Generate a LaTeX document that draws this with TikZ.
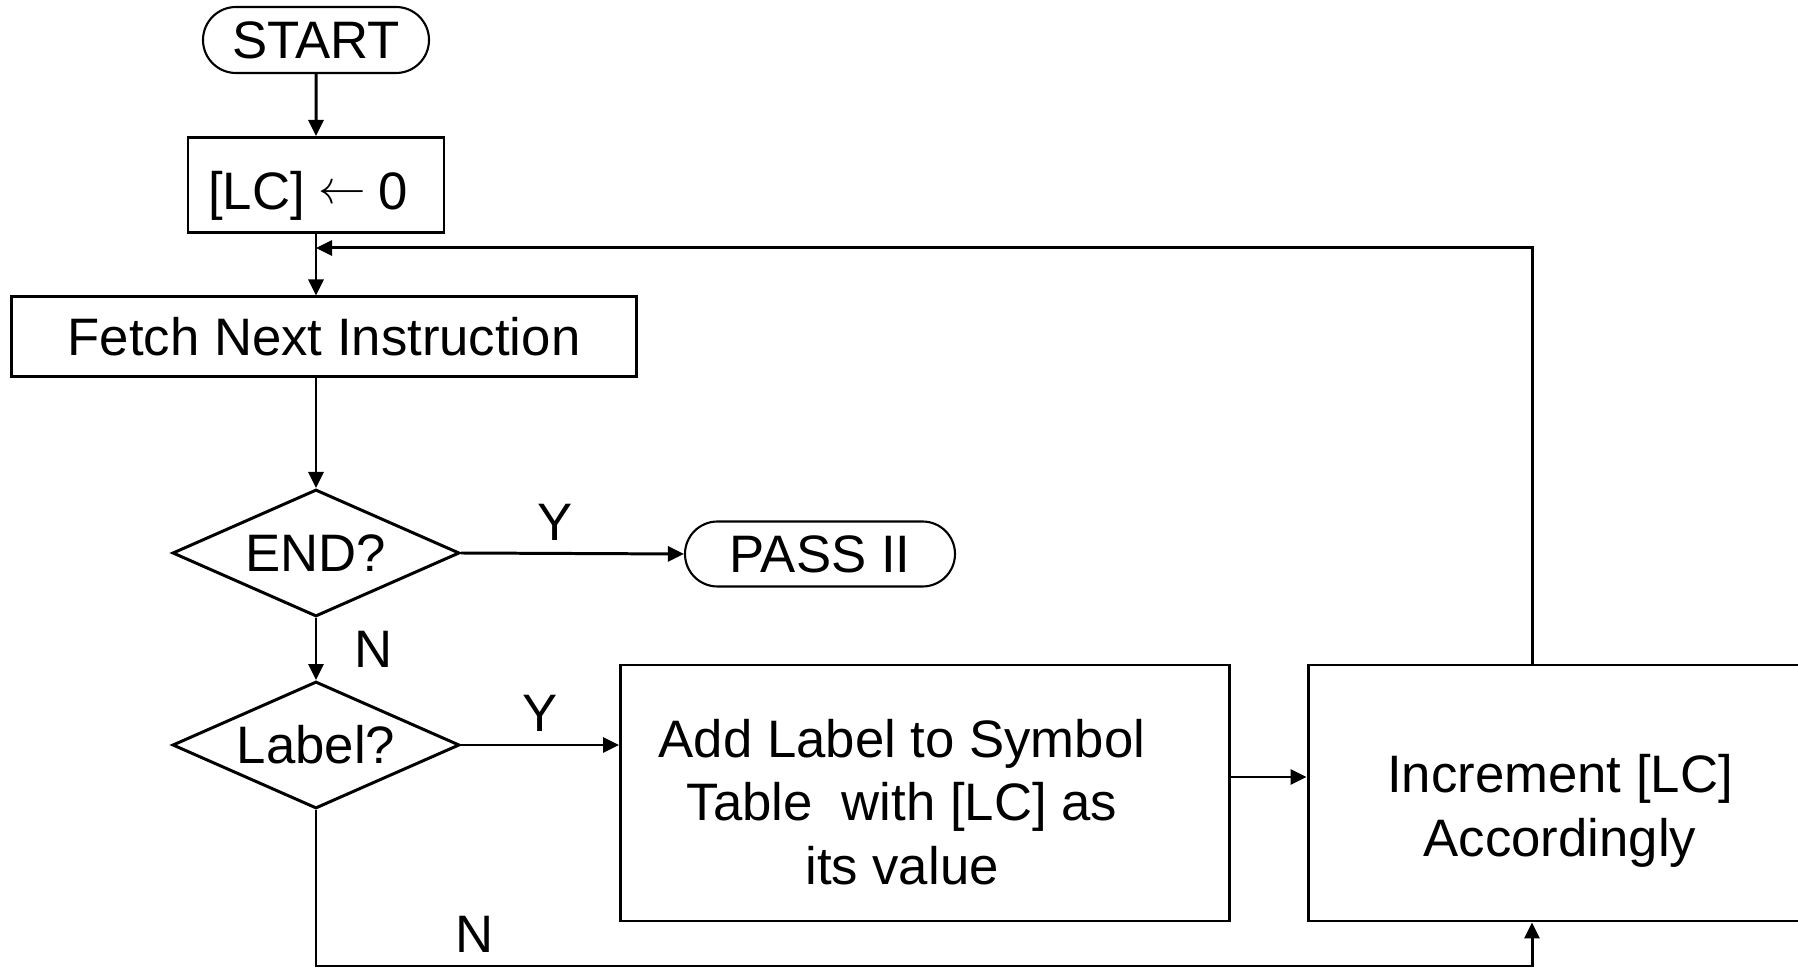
\documentclass[tikz,border=0pt]{standalone}
\usepackage{fontspec}
\setmainfont{Liberation Sans}
\usetikzlibrary{positioning,shapes.geometric,shapes.misc}
\usepgflibrary{arrows.meta}

% left arrow for the assignment box
\newcommand{\assignarrow}{\hspace{4pt}\raisebox{1.6pt}{\scalebox{0.94}{$\leftarrow$}}\hspace{3.5pt}}

\begin{document}
\begin{tikzpicture}
    [>={Triangle[length=1.6mm,width=1.5mm]},
    node distance =2cm,
    line width=0.85pt,
    font=\fontsize{15}{18}\selectfont,
    term/.style={rounded rectangle, draw, line width=0.6pt, inner sep=0pt, minimum width=2.26cm, minimum height=0.66cm},
    proc/.style={rectangle, draw, inner sep=2pt, align=center},
    decision/.style={diamond, draw, aspect=2.26, inner sep=0pt, minimum width=2.87cm, minimum height=1.27cm},
    boxtext/.style={align=center, inner sep=0pt}]
        \useasboundingbox (0,0) rectangle (17.98,-9.68);

        %% Nodes
        \node[term] (start) at (3.16,-0.40) {START};
        \node[proc, below of = start, node distance=1.45cm, minimum width=2.56cm, minimum height=0.95cm] (lc) {};
        \node[boxtext] (lctext) at ([xshift=-0.08cm, yshift=-0.11cm]lc.center) {[LC]\assignarrow0};
        \node[proc, minimum width=6.25cm, minimum height=0.8cm] (fetch) at (3.24,-3.37) {Fetch Next Instruction};
        \node[decision, below of = lc, node distance=3.68cm] (endq) {END?};
        \node[decision, below of = endq, node distance=1.92cm] (labelq) {Label?};
        \node[term, minimum width=2.7cm, minimum height=0.65cm] (pass) at (8.20,-5.54) {PASS II};
        \node[proc, minimum width=6.09cm, minimum height=2.56cm] (add) at (9.25,-7.93) {};
        \node[proc, right of = add, node distance=6.35cm, minimum width=5.04cm, minimum height=2.56cm] (incr) {};
        \node[boxtext] (addtext) at ([xshift=-0.23cm, yshift=-0.09cm]add.center) {Add Label to Symbol\\Table~~with [LC] as\\its value};
        \node[boxtext] (incrtext) at ([yshift=-0.18cm]incr.center) {Increment [LC]\\Accordingly};

        \coordinate (loop) at (15.32,-2.48);
        \coordinate (corner) at (15.32,-9.66);

        %% Connectors
        \draw[->] (start) to (lc);
        \draw[->] (lc) to (lc |- fetch.north);
        \draw[->] (endq |- fetch.south) to (endq.north);
        \draw[->] (endq.east) to node[above, pos=0.42] {Y} (pass.west);
        \draw[->] (endq.south) to node[right=2.5mm] {N} (labelq.north);
        \draw[->] (labelq.east) to node[above] {Y} (labelq.east -| add.west);
        \draw[->] ([yshift=0.16cm]add.east) to ([yshift=0.16cm]incr.west);
        \draw[->] (loop |- incr.north) -- (loop) -- (lc.south |- loop);
        \draw[->] (labelq.south) -- (labelq |- corner) -- node[above, pos=0.13] {N} (corner) -- (corner |- incr.south);
    \end{tikzpicture}
\end{document}
